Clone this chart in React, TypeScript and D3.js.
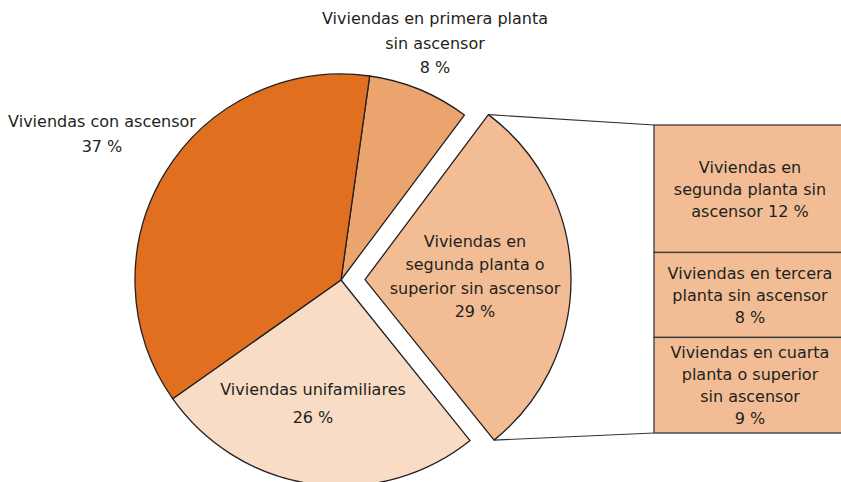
import React from "react";
import * as d3 from "d3";

const WIDTH = 841;
const HEIGHT = 482;

// pie slices, clockwise from the top
const sliceNames = [
  "primera",
  "segunda",
  "unifamiliares",
  "ascensor",
];
const sliceValues = [8, 29, 26, 37];
const sliceColors = ["#eca46e", "#f2bd95", "#f8dcc5", "#e0701f"];
const sliceLabels = [
  ["Viviendas en primera planta", "sin ascensor", "8 %"],
  ["Viviendas en", "segunda planta o", "superior sin ascensor", "29 %"],
  ["Viviendas unifamiliares", "26 %"],
  ["Viviendas con ascensor", "37 %"],
];

// breakdown of the exploded slice
const breakdownValues = [12, 8, 9];
const breakdownLabels = [
  ["Viviendas en", "segunda planta sin", "ascensor 12 %"],
  ["Viviendas en tercera", "planta sin ascensor", "8 %"],
  ["Viviendas en cuarta", "planta o superior", "sin ascensor", "9 %"],
];

const CX = 341;
const CY = 280;
const R = 206;
const START = (8 * Math.PI) / 180;
const EXPLODE = 24;
const INK = "#231f20";

// label anchor points, relative to page
const labelPos = [
  { x: 435, y: 24, lh: 24.5 },
  { x: 475, y: 247, lh: 23.3 },
  { x: 313, y: 395, lh: 27.5 },
  { x: 102, y: 127, lh: 25 },
];

const BOX = { x: 654, y: 125, w: 194, h: 308 };

const App = () => {
  const pie = d3
    .pie<number>()
    .sort(null)
    .startAngle(START)
    .endAngle(START + 2 * Math.PI);
  const arcs = pie(sliceValues);
  const arc = d3.arc<d3.PieArcDatum<number>>().innerRadius(0).outerRadius(R);

  const exploded = arcs[1];
  const mid = (exploded.startAngle + exploded.endAngle) / 2;
  const ex = Math.sin(mid) * EXPLODE;
  const ey = -Math.cos(mid) * EXPLODE;

  const cornerTop = [
    CX + ex + R * Math.sin(exploded.startAngle),
    CY + ey - R * Math.cos(exploded.startAngle),
  ];
  const cornerBottom = [
    CX + ex + R * Math.sin(exploded.endAngle),
    CY + ey - R * Math.cos(exploded.endAngle),
  ];

  // stacked box on the right
  const yScale = d3
    .scaleLinear()
    .domain([0, d3.sum(breakdownValues)])
    .range([BOX.y, BOX.y + BOX.h]);
  let acc = 0;
  const sections = breakdownValues.map((v, i) => {
    const y0 = yScale(acc);
    acc += v;
    const y1 = yScale(acc);
    return { y0, y1, labels: breakdownLabels[i] };
  });

  return (
    <svg
      width={WIDTH}
      height={HEIGHT}
      style={{ position: "absolute", left: 0, top: 0, background: "#fff" }}
      fontFamily="'DejaVu Sans', Verdana, sans-serif"
      fontSize={16}
    >
      {/* connectors */}
      <line
        x1={cornerTop[0]}
        y1={cornerTop[1]}
        x2={BOX.x}
        y2={BOX.y}
        stroke="#333"
        strokeWidth={1.2}
      />
      <line
        x1={cornerBottom[0]}
        y1={cornerBottom[1]}
        x2={BOX.x}
        y2={BOX.y + BOX.h}
        stroke="#333"
        strokeWidth={1.2}
      />

      {arcs.map((a, i) => {
        const dx = i === 1 ? ex : 0;
        const dy = i === 1 ? ey : 0;
        return (
          <path
            key={sliceNames[i]}
            d={arc(a) || ""}
            transform={`translate(${CX + dx},${CY + dy})`}
            fill={sliceColors[i]}
            stroke={INK}
            strokeWidth={1.3}
            strokeLinejoin="round"
          />
        );
      })}

      {sliceLabels.map((lines, i) => (
        <text
          key={sliceNames[i]}
          textAnchor="middle"
          fill={INK}
        >
          {lines.map((t, j) => (
            <tspan
              key={j}
              x={labelPos[i].x}
              y={labelPos[i].y + j * labelPos[i].lh}
            >
              {t}
            </tspan>
          ))}
        </text>
      ))}

      {sections.map((s, i) => {
        const cy = (s.y0 + s.y1) / 2;
        const lh = 22;
        const first = cy + 6 - ((s.labels.length - 1) * lh) / 2;
        return (
          <g key={i}>
            <rect
              x={BOX.x}
              y={s.y0}
              width={BOX.w}
              height={s.y1 - s.y0}
              fill="#f2bd95"
              stroke="#3a3a3a"
              strokeWidth={1.3}
            />
            <text textAnchor="middle" fill={INK}>
              {s.labels.map((t, j) => (
                <tspan key={j} x={750} y={first + j * lh}>
                  {t}
                </tspan>
              ))}
            </text>
          </g>
        );
      })}
    </svg>
  );
};

export default App;
